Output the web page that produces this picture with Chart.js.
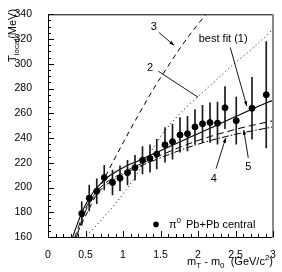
<!DOCTYPE html>
<html>
<head>
<meta charset="utf-8">
<script src="https://cdn.jsdelivr.net/npm/chart.js@4.4.1/dist/chart.umd.min.js"></script>
<style>
  html, body { margin: 0; padding: 0; background: #fff; }
  #wrap { width: 282px; height: 272px; }
</style>
</head>
<body>
<div id="wrap"><canvas id="tChart" width="282" height="272"></canvas></div>
<script>
// measured pi0 local temperatures (MeV) vs mT - m0 (GeV/c^2)
const mtX = [0.45, 0.55, 0.65, 0.75, 0.86, 0.96, 1.06, 1.16, 1.26, 1.36, 1.45, 1.56,
             1.66, 1.76, 1.86, 1.96, 2.06, 2.16, 2.26, 2.36, 2.51, 2.72, 2.91];
const tLocal = [179, 191.5, 197, 208, 204, 207.5, 212, 216, 222, 223.5, 227, 234.5,
                237, 242.5, 243.5, 249, 251.5, 252.5, 252, 264.5, 254, 264, 275];
const tErr = [9.5, 10.5, 10, 10, 10, 10, 10, 10, 11, 11, 12, 14,
              14, 14, 14, 14, 15, 16, 17, 17, 19, 25, 43];

// model curves
const fitX = [0.28, 0.33, 0.4, 0.5, 0.6, 0.7, 0.8, 0.9, 1.0, 1.2, 1.4, 1.6, 1.8, 2.0, 2.2, 2.4, 2.6, 2.8, 3.0];
const fitT = [150, 160, 172, 186, 196, 203, 208.5, 212.5, 216, 221.5, 227, 232.5, 238, 243.5, 249, 254.5, 260, 265.5, 270.5];

const c2X = [0.45, 0.5, 0.7, 0.9, 1.1, 1.3, 1.5, 1.7, 1.9, 2.1, 2.3, 2.5, 2.7, 3.0];
const c2T = [156, 160, 173, 187, 203, 222, 241, 256, 268, 279, 290, 301, 311, 328];

const c3X = [0.31, 0.37, 0.6, 0.8, 1.0, 1.2, 1.4, 1.6, 1.8, 2.0, 2.2];
const c3T = [150, 160, 189, 213, 236, 258, 279, 298, 316, 332, 347];

const c4X = [0.3, 0.36, 0.5, 0.7, 1.0, 1.5, 2.0, 2.5, 3.0];
const c4T = [150, 160, 183, 200, 212, 226, 238, 247, 254];

const c5X = [0.32, 0.38, 0.5, 0.7, 1.0, 1.5, 2.0, 2.5, 3.0];
const c5T = [150, 160, 181, 198, 210.5, 224, 235, 243, 249];

const xTicks = [0, 0.5, 1, 1.5, 2, 2.5, 3];
const yTicks = [160, 180, 200, 220, 240, 260, 280, 300, 320, 340];

const FONT = '"Liberation Sans", Arial, Helvetica, sans-serif';
const pairs = (xs, ys) => xs.map((x, i) => ({ x, y: ys[i] }));

function drawArrow(ctx, x1, y1, x2, y2, head) {
    ctx.beginPath();
    ctx.moveTo(x1, y1);
    ctx.lineTo(x2, y2);
    ctx.stroke();
    if (!head) return;
    const a = Math.atan2(y2 - y1, x2 - x1);
    ctx.beginPath();
    ctx.moveTo(x2, y2);
    ctx.lineTo(x2 - 5 * Math.cos(a - 0.35), y2 - 5 * Math.sin(a - 0.35));
    ctx.lineTo(x2 - 5 * Math.cos(a + 0.35), y2 - 5 * Math.sin(a + 0.35));
    ctx.closePath();
    ctx.fill();
}

// draw text runs with sub/superscripts, returns width
function runs(ctx, parts, x, y, measureOnly) {
    let w = 0;
    parts.forEach(([txt, size, dy]) => {
        ctx.font = size + 'px ' + FONT;
        if (!measureOnly) ctx.fillText(txt, x + w, y + dy);
        w += ctx.measureText(txt).width;
    });
    return w;
}

const framePlugin = {
    id: 'frame',
    afterDraw(chart) {
        const { ctx, chartArea: a, scales: { x, y } } = chart;
        ctx.save();
        ctx.strokeStyle = '#000';
        ctx.fillStyle = '#000';
        ctx.lineWidth = 1;
        // frame
        ctx.beginPath();
        ctx.moveTo(a.left + 0.5, a.bottom + 0.5);
        ctx.lineTo(a.left + 0.5, a.top + 0.5);
        ctx.lineTo(a.right, a.top + 0.5);
        ctx.moveTo(a.left, a.bottom + 0.5);
        ctx.lineTo(a.right, a.bottom + 0.5);
        ctx.stroke();
        ctx.strokeStyle = '#888';
        ctx.lineWidth = 2;
        ctx.beginPath();
        ctx.moveTo(a.right, a.top);
        ctx.lineTo(a.right, a.bottom + 1);
        ctx.stroke();
        // inward ticks
        ctx.strokeStyle = '#000';
        ctx.lineWidth = 1;
        ctx.beginPath();
        for (let i = 0; i <= 30; i++) {
            const px = Math.round(x.getPixelForValue(i / 10)) + 0.5;
            ctx.moveTo(px, a.bottom);
            ctx.lineTo(px, a.bottom - (i % 5 === 0 ? 6 : 3));
        }
        for (let v = 160; v <= 340; v += 5) {
            const py = Math.round(y.getPixelForValue(v)) + 0.5;
            ctx.moveTo(a.left, py);
            ctx.lineTo(a.left + (v % 20 === 0 ? 6 : 3), py);
        }
        ctx.stroke();

        // curve labels
        const P = (vx, vy) => [x.getPixelForValue(vx), y.getPixelForValue(vy)];
        ctx.font = '11px ' + FONT;
        ctx.textAlign = 'center';
        ctx.textBaseline = 'middle';
        let p = P(1.41, 330); ctx.fillText('3', p[0], p[1]);
        p = P(1.36, 296.4); ctx.fillText('2', p[0], p[1]);
        p = P(2.21, 207.2); ctx.fillText('4', p[0], p[1]);
        p = P(2.67, 216.8); ctx.fillText('5', p[0], p[1]);
        ctx.textAlign = 'left';
        p = P(2.01, 319.7); ctx.fillText('best fit (1)', p[0], p[1]);

        ctx.lineWidth = 0.9;
        const arr = (a1, b1, a2, b2, head) => {
            const s = P(a1, b1), e = P(a2, b2);
            drawArrow(ctx, s[0], s[1], e[0], e[1], head);
        };
        arr(1.48, 325.3, 1.68, 314.9, true);
        arr(1.47, 294, 2.0, 273, false);
        arr(2.43, 313.2, 2.65, 265.8, true);
        arr(2.24, 215.2, 2.37, 240.1, true);
        arr(2.67, 224, 2.61, 246.5, true);

        // legend
        p = P(1.44, 170.2);
        ctx.beginPath();
        ctx.arc(p[0], p[1], 2.8, 0, Math.PI * 2);
        ctx.fill();
        ctx.textBaseline = 'alphabetic';
        runs(ctx, [['\u03c0', 11, 0], ['0', 8, -5]], p[0] + 13, p[1] + 4);
        runs(ctx, [['Pb+Pb central', 11, 0]], p[0] + 30, p[1] + 4);

        // axis titles
        const xt = [['m', 11, 0], ['T', 8, 3], [' - m', 11, 0], ['0', 8, 3], ['  (GeV/c', 11, 0], ['2', 8, -5], [')', 11, 0]];
        const w = runs(ctx, xt, 0, 0, true);
        runs(ctx, xt, a.right - w, 265);

        ctx.translate(16, 62);
        ctx.rotate(-Math.PI / 2);
        runs(ctx, [['T', 11, 0], ['local', 8, 3], ['(MeV)', 11, 0]], 0, 0);
        ctx.restore();
    }
};

const curve = (xs, ys, dash, width) => ({
    type: 'line',
    data: pairs(xs, ys),
    borderColor: '#000',
    borderWidth: width || 1,
    borderDash: dash,
    pointRadius: 0,
    cubicInterpolationMode: 'monotone',
    fill: false,
});

new Chart(document.getElementById('tChart'), {
    type: 'scatter',
    data: {
        datasets: [
            {
                data: pairs(mtX, tLocal),
                backgroundColor: '#000',
                borderColor: '#000',
                pointRadius: 3,
                pointHoverRadius: 3,
            },
            {
                type: 'bar',
                data: mtX.map((x, i) => ({ x, y: [tLocal[i] - tErr[i], tLocal[i] + tErr[i]] })),
                backgroundColor: '#1a1a1a',
                barThickness: 1,
                grouped: false,
            },
            curve(fitX, fitT, [], 1.1),
            curve(c2X, c2T, [1, 3]),
            curve(c3X, c3T, [5, 4]),
            curve(c4X, c4T, [7, 4]),
            curve(c5X, c5T, [7, 2, 1.5, 2]),
        ],
    },
    options: {
        responsive: false,
        animation: false,
        layout: { padding: { top: 13, right: 9, left: 0, bottom: 0 } },
        plugins: { legend: { display: false }, tooltip: { enabled: false } },
        scales: {
            x: {
                type: 'linear',
                min: 0,
                max: 3,
                offset: false,
                afterFit: (s) => { s.height = 35; },
                afterBuildTicks: (s) => { s.ticks = xTicks.map((v) => ({ value: v })); },
                grid: { display: false, offset: false },
                border: { display: false },
                ticks: {
                    color: '#000',
                    padding: 4,
                    maxRotation: 0,
                    font: { family: FONT, size: 10.5 },
                    callback: (v) => String(v),
                },
            },
            y: {
                min: 160,
                max: 340,
                afterFit: (s) => { s.width = 48; },
                afterBuildTicks: (s) => { s.ticks = yTicks.map((v) => ({ value: v })); },
                grid: { display: false },
                border: { display: false },
                ticks: { color: '#000', padding: 8, font: { family: FONT, size: 10.5 } },
            },
        },
    },
    plugins: [framePlugin],
});
</script>
</body>
</html>
